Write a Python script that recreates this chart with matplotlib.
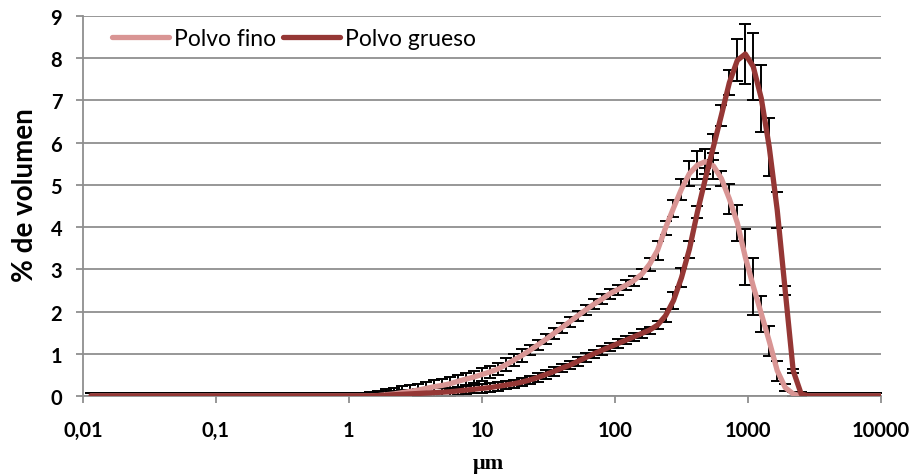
import matplotlib
matplotlib.use("Agg")
import matplotlib.pyplot as plt
from matplotlib.ticker import FixedLocator, NullLocator


# particle size classes (um)
size_um = [
    0.01148, 0.01318, 0.01514, 0.01738, 0.01995, 0.02291, 0.02630, 0.03020, 0.03467, 0.03981,
    0.04571, 0.05248, 0.06026, 0.06918, 0.07943, 0.09120, 0.1047, 0.1202, 0.1380, 0.1585,
    0.1820, 0.2089, 0.2399, 0.2754, 0.3162, 0.3631, 0.4169, 0.4786, 0.5495, 0.6310,
    0.7244, 0.8318, 0.9550, 1.096, 1.259, 1.445, 1.660, 1.905, 2.188, 2.512,
    2.884, 3.311, 3.802, 4.365, 5.012, 5.754, 6.607, 7.586, 8.710, 10.00,
    11.48, 13.18, 15.14, 17.38, 19.95, 22.91, 26.30, 30.20, 34.67, 39.81,
    45.71, 52.48, 60.26, 69.18, 79.43, 91.20, 104.7, 120.2, 138.0, 158.5,
    182.0, 208.9, 239.9, 275.4, 316.2, 363.1, 416.9, 478.6, 549.5, 631.0,
    724.4, 831.8, 955.0, 1096, 1259, 1445, 1660, 1905, 2188, 2512,
    2884, 3311, 3802, 4365, 5012, 5754, 6607, 7586, 8710, 10000,
]

fino = [
    0, 0, 0, 0, 0, 0, 0, 0, 0, 0,
    0, 0, 0, 0, 0, 0, 0, 0, 0, 0,
    0, 0, 0, 0, 0, 0, 0, 0, 0, 0,
    0, 0, 0, 0, 0, 0, 0.01, 0.03, 0.05, 0.08,
    0.11, 0.14, 0.18, 0.22, 0.25, 0.29, 0.35, 0.40, 0.45, 0.51,
    0.57, 0.64, 0.74, 0.85, 0.96, 1.08, 1.21, 1.34, 1.48, 1.62,
    1.76, 1.90, 2.04, 2.17, 2.29, 2.42, 2.52, 2.62, 2.73, 2.88,
    3.12, 3.45, 3.98, 4.45, 4.90, 5.27, 5.47, 5.55, 5.45, 5.15,
    4.67, 4.10, 3.29, 2.60, 1.95, 1.30, 0.60, 0.20, 0.05, 0,
    0, 0, 0, 0, 0, 0, 0, 0, 0, 0,
]

fino_err = [
    0.06, 0.06, 0.06, 0.06, 0.06, 0.06, 0.06, 0.06, 0.06, 0.06,
    0.06, 0.06, 0.06, 0.06, 0.06, 0.06, 0.06, 0.06, 0.06, 0.06,
    0.06, 0.06, 0.06, 0.06, 0.06, 0.06, 0.06, 0.06, 0.06, 0.06,
    0.06, 0.06, 0.06, 0.06, 0.08, 0.10, 0.12, 0.14, 0.15, 0.15,
    0.15, 0.15, 0.15, 0.15, 0.15, 0.15, 0.15, 0.15, 0.15, 0.15,
    0.15, 0.15, 0.15, 0.15, 0.15, 0.12, 0.12, 0.12, 0.12, 0.12,
    0.12, 0.12, 0.12, 0.12, 0.12, 0.12, 0.12, 0.12, 0.12, 0.12,
    0.15, 0.23, 0.16, 0.20, 0.25, 0.30, 0.33, 0.30, 0.30, 0.18,
    0.35, 0.42, 0.67, 0.68, 0.43, 0.36, 0.24, 0.08, 0.04, 0.06,
    0.06, 0.06, 0.06, 0.06, 0.06, 0.06, 0.06, 0.06, 0.06, 0.06,
]

grueso = [
    0, 0, 0, 0, 0, 0, 0, 0, 0, 0,
    0, 0, 0, 0, 0, 0, 0, 0, 0, 0,
    0, 0, 0, 0, 0, 0, 0, 0, 0, 0,
    0, 0, 0, 0, 0, 0, 0.01, 0.02, 0.03, 0.04,
    0.05, 0.06, 0.07, 0.08, 0.09, 0.10, 0.12, 0.14, 0.16, 0.18,
    0.20, 0.23, 0.26, 0.29, 0.33, 0.38, 0.44, 0.51, 0.58, 0.66,
    0.73, 0.82, 0.91, 1.00, 1.08, 1.16, 1.24, 1.32, 1.40, 1.48,
    1.56, 1.68, 1.90, 2.26, 2.80, 3.48, 4.36, 5.15, 5.90, 6.65,
    7.42, 7.95, 8.10, 7.80, 7.05, 5.90, 4.40, 2.50, 0.60, 0.05,
    0, 0, 0, 0, 0, 0, 0, 0, 0, 0,
]

grueso_err = [
    0.06, 0.06, 0.06, 0.06, 0.06, 0.06, 0.06, 0.06, 0.06, 0.06,
    0.06, 0.06, 0.06, 0.06, 0.06, 0.06, 0.06, 0.06, 0.06, 0.06,
    0.06, 0.06, 0.06, 0.06, 0.06, 0.06, 0.06, 0.06, 0.06, 0.06,
    0.06, 0.06, 0.08, 0.08, 0.08, 0.08, 0.08, 0.10, 0.10, 0.10,
    0.10, 0.10, 0.10, 0.10, 0.10, 0.10, 0.10, 0.10, 0.10, 0.10,
    0.10, 0.10, 0.10, 0.10, 0.10, 0.10, 0.10, 0.10, 0.10, 0.10,
    0.10, 0.10, 0.10, 0.10, 0.10, 0.10, 0.10, 0.10, 0.10, 0.10,
    0.08, 0.10, 0.15, 0.20, 0.22, 0.20, 0.15, 0.25, 0.30, 0.25,
    0.30, 0.50, 0.70, 0.80, 0.80, 0.68, 0.42, 0.10, 0.05, 0.05,
    0.06, 0.06, 0.06, 0.06, 0.06, 0.06, 0.06, 0.06, 0.06, 0.06,
]

x_ticks = [0.01, 0.1, 1, 10, 100, 1000, 10000]
x_tick_labels = ["0,01", "0,1", "1", "10", "100", "1000", "10000"]
y_ticks = list(range(10))

COLOR_FINO = "#D99594"
COLOR_GRUESO = "#953735"
GRID = "#8f8f8f"

plt.rcParams["font.family"] = ["Lato", "DejaVu Sans"]

fig = plt.figure(figsize=(9.17, 4.77), dpi=100)
ax = fig.add_axes([0.0905, 0.1677, 0.8702, 0.7967])

ax.errorbar(size_um, fino, yerr=fino_err, fmt="none", ecolor="black",
            elinewidth=1.4, capsize=4, capthick=1.4, zorder=2)
ax.errorbar(size_um, grueso, yerr=grueso_err, fmt="none", ecolor="black",
            elinewidth=1.4, capsize=4, capthick=1.4, zorder=2)

ax.plot(size_um, fino, color=COLOR_FINO, lw=3.8, solid_capstyle="round",
        label="Polvo fino", zorder=3)
ax.plot(size_um, grueso, color=COLOR_GRUESO, lw=3.8, solid_capstyle="round",
        label="Polvo grueso", zorder=4)

ax.set_xscale("log")
ax.set_xlim(0.01, 10000)
ax.set_ylim(0, 9)

ax.xaxis.set_major_locator(FixedLocator(x_ticks))
ax.xaxis.set_minor_locator(NullLocator())
ax.set_xticklabels(x_tick_labels)
ax.set_yticks(y_ticks)

ax.yaxis.grid(True, color=GRID, lw=1.3)
ax.set_axisbelow(True)

for side in ["top", "right"]:
    ax.spines[side].set_visible(False)
for side in ["left", "bottom"]:
    ax.spines[side].set_color(GRID)
    ax.spines[side].set_linewidth(1.3)

ax.tick_params(axis="both", direction="out", length=5, width=1.3, color=GRID,
               labelsize=14.5)
ax.tick_params(axis="x", pad=12)
ax.tick_params(axis="y", pad=10)
for lab in ax.get_xticklabels() + ax.get_yticklabels():
    lab.set_fontweight("bold")

ax.set_ylabel("% de volumen", fontsize=20, fontweight="bold")
ax.yaxis.set_label_coords(-0.056, 0.53)
ax.set_xlabel("μm", fontsize=16, fontweight="bold",
              family=["Liberation Serif", "DejaVu Serif"])
ax.xaxis.set_label_coords(0.508, -0.15)

ax.legend(loc="upper left", bbox_to_anchor=(0.016, 1.01), ncol=2, frameon=False,
          fontsize=16.5, handlelength=2.5, handletextpad=0.2, columnspacing=0.3,
          borderaxespad=0.3)

fig.savefig("out.png", dpi=100)
